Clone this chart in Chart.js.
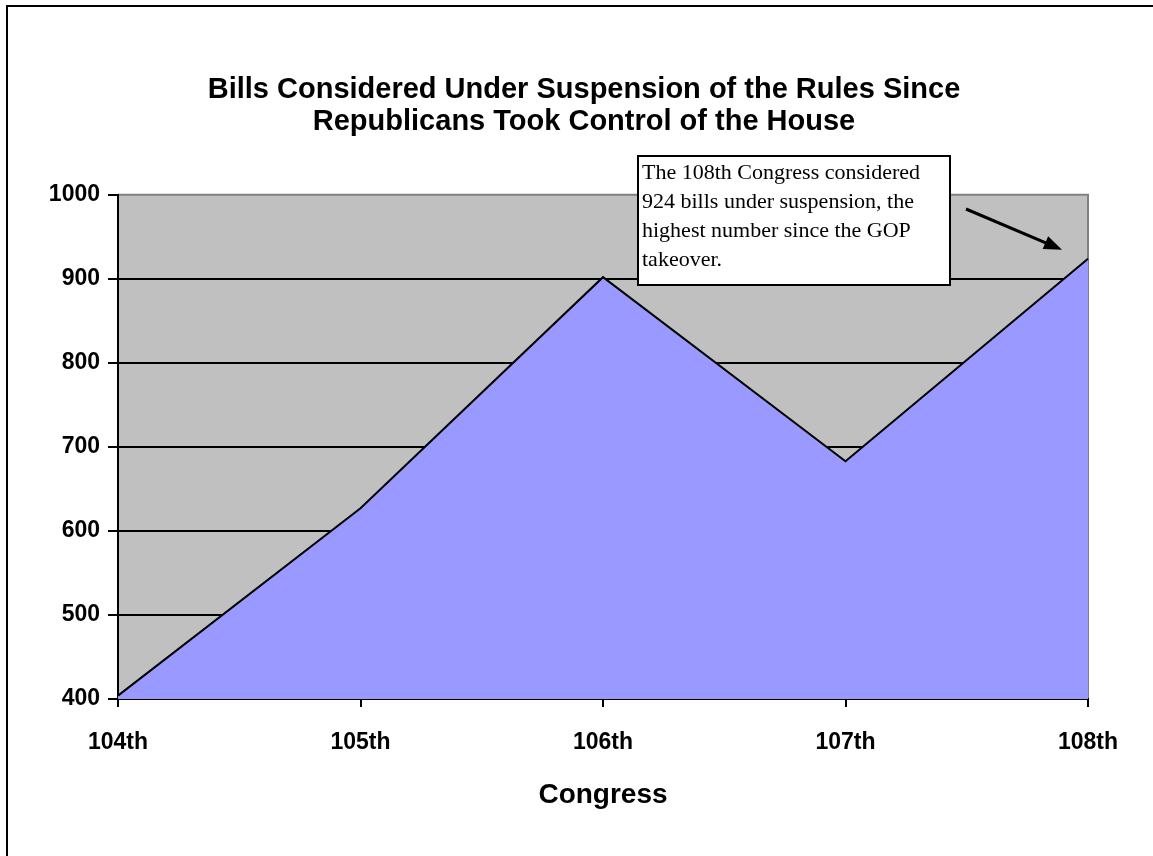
<!DOCTYPE html>
<html>
<head>
<meta charset="utf-8">
<script src="https://cdn.jsdelivr.net/npm/chart.js@4/dist/chart.umd.min.js"></script>
<style>
  html, body { margin: 0; padding: 0; background: #fff; }
  #wrap { width: 1153px; height: 856px; }
</style>
</head>
<body>
<div id="wrap"><canvas id="billsChart" width="1153" height="856"></canvas></div>
<script>
var congresses = ["104th", "105th", "106th", "107th", "108th"];
var billCounts = [404, 627, 902, 683, 924];
var yTicks = [400, 500, 600, 700, 800, 900, 1000];
var titleLines = ["Bills Considered Under Suspension of the Rules Since", "Republicans Took Control of the House"];
var noteLines = ["The 108th Congress considered", "924 bills under suspension, the", "highest number since the GOP", "takeover."];

// gray plot background + gray border on top/right, like the Excel original
var plotBackground = {
    id: 'plotBackground',
    afterLayout: function (chart) {
        // centre the title a bit to the right of the full width, as in the original
        var t = chart.titleBlock;
        if (t) { t.left = 80; t.right = chart.chartArea.right; }
    },
    beforeDraw: function (chart) {
        var a = chart.chartArea, ctx = chart.ctx;
        ctx.save();
        ctx.fillStyle = '#c0c0c0';
        ctx.fillRect(a.left, a.top, a.right - a.left, a.bottom - a.top);
        ctx.strokeStyle = '#808080';
        ctx.lineWidth = 2;
        ctx.beginPath();
        ctx.moveTo(a.left, a.top);
        ctx.lineTo(a.right, a.top);
        ctx.lineTo(a.right, a.bottom);
        ctx.stroke();
        // frame of the whole chart (cut off at right / bottom)
        ctx.strokeStyle = '#000';
        ctx.beginPath();
        ctx.moveTo(7, 856);
        ctx.lineTo(7, 6);
        ctx.lineTo(1153, 6);
        ctx.stroke();
        ctx.restore();
    }
};

// text box with arrow pointing at the last point
var noteBox = {
    id: 'noteBox',
    afterDraw: function (chart) {
        var ctx = chart.ctx;
        var xs = chart.scales.x, ys = chart.scales.y;
        var last = billCounts.length - 1;
        var px = xs.getPixelForValue(last), py = ys.getPixelForValue(billCounts[last]);
        ctx.save();
        // arrow
        var x0 = 966, y0 = 209, x1 = px - 26, y1 = py - 9;
        ctx.strokeStyle = '#000';
        ctx.fillStyle = '#000';
        ctx.lineWidth = 3;
        var ang = Math.atan2(y1 - y0, x1 - x0);
        ctx.beginPath();
        ctx.moveTo(x0, y0);
        ctx.lineTo(x1 - 10 * Math.cos(ang), y1 - 10 * Math.sin(ang));
        ctx.stroke();
        ctx.beginPath();
        ctx.moveTo(x1, y1);
        ctx.lineTo(x1 - 18 * Math.cos(ang) + 7 * Math.sin(ang), y1 - 18 * Math.sin(ang) - 7 * Math.cos(ang));
        ctx.lineTo(x1 - 18 * Math.cos(ang) - 7 * Math.sin(ang), y1 - 18 * Math.sin(ang) + 7 * Math.cos(ang));
        ctx.closePath();
        ctx.fill();
        // box
        ctx.fillStyle = '#fff';
        ctx.fillRect(638, 156, 312, 129);
        ctx.lineWidth = 2;
        ctx.strokeRect(638, 156, 312, 129);
        ctx.fillStyle = '#000';
        ctx.font = '22px "Liberation Serif", "Times New Roman", serif';
        ctx.textBaseline = 'alphabetic';
        ctx.textAlign = 'left';
        for (var i = 0; i < noteLines.length; i++) {
            ctx.fillText(noteLines[i], 642, 179 + i * 29);
        }
        ctx.restore();
    }
};

var ctx = document.getElementById('billsChart').getContext('2d');
var chart = new Chart(ctx, {
    type: 'line',
    data: {
        labels: congresses,
        datasets: [{
            data: billCounts,
            lineTension: 0,
            fill: 'start',
            borderColor: '#000',
            borderWidth: 2,
            backgroundColor: '#9999ff',
            pointRadius: 0
        }]
    },
    options: {
        responsive: false,
        animation: false,
        layout: { padding: { left: 0, right: 65, top: 0, bottom: 0 } },
        plugins: {
            legend: { display: false },
            tooltip: { enabled: false },
            title: {
                display: true,
                text: titleLines,
                color: '#000',
                font: { family: '"Liberation Sans", Arial, sans-serif', size: 29, weight: 'bold', lineHeight: 1.1 },
                padding: { top: 74, bottom: 57 }
            }
        },
        scales: {
            x: {
                offset: false,
                afterFit: function (s) { s.height = 157; },
                grid: { drawOnChartArea: false, drawTicks: true, tickLength: 8, color: '#000', lineWidth: 2 },
                border: { color: '#000', width: 2 },
                ticks: {
                    color: '#000',
                    padding: 22,
                    maxRotation: 0,
                    font: { family: '"Liberation Sans", Arial, sans-serif', size: 23, weight: 'bold' }
                },
                title: {
                    display: true,
                    text: 'Congress',
                    color: '#000',
                    font: { family: '"Liberation Sans", Arial, sans-serif', size: 28, weight: 'bold' },
                    padding: { top: 0, bottom: 44 }
                }
            },
            y: {
                min: yTicks[0],
                max: yTicks[yTicks.length - 1],
                afterFit: function (s) { s.width = 118; },
                afterBuildTicks: function (s) { s.ticks = yTicks.map(function (v) { return { value: v }; }); },
                grid: {
                    color: function (c) { return c.tick && c.tick.value === 1000 ? 'rgba(0,0,0,0)' : '#000'; },
                    tickColor: '#000',
                    lineWidth: 2,
                    tickLength: 10
                },
                border: { color: '#000', width: 2 },
                ticks: {
                    color: '#000',
                    padding: 8,
                    callback: function (v) { return String(v); },
                    font: { family: '"Liberation Sans", Arial, sans-serif', size: 23, weight: 'bold' }
                }
            }
        }
    },
    plugins: [plotBackground, noteBox]
});
</script>
</body>
</html>
